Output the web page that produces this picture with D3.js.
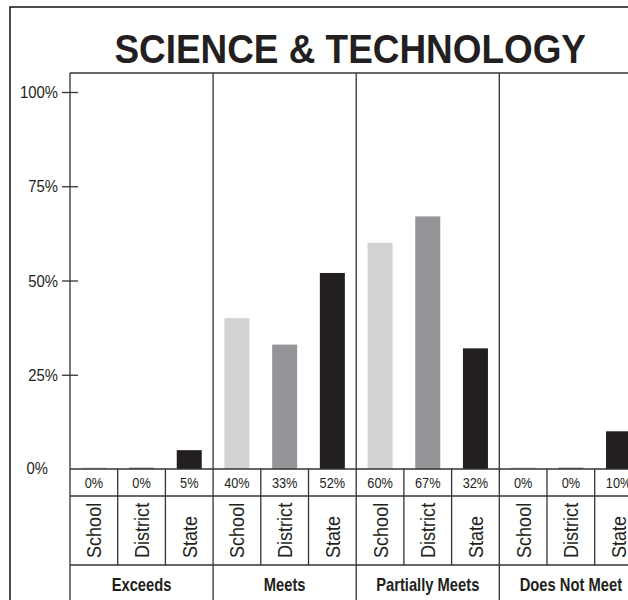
<!DOCTYPE html>
<html>
<head>
<meta charset="utf-8">
<script src="https://cdn.jsdelivr.net/npm/d3@7/dist/d3.min.js"></script>
<style>
  html, body { margin: 0; padding: 0; background: #fff; }
  svg { display: block; font-family: "Liberation Sans", Arial, Helvetica, sans-serif; }
</style>
</head>
<body>
<script>
// Achievement levels (groups) and the three comparison populations
const title = "SCIENCE & TECHNOLOGY";
const groups = ["Exceeds", "Meets", "Partially Meets", "Does Not Meet"];
const levels = ["School", "District", "State"];

// Percent of students per achievement level
const school   = [0, 40, 60, 0];
const district = [0, 33, 67, 0];
const state    = [5, 52, 32, 10];

const tickValues = [0, 25, 50, 75, 100];

const colors = { School: "#d1d3d4", District: "#939598", State: "#231f20" };
const ink = "#231f20";
const lineColor = "#333";

const W = 628, H = 600;
const frameLeft = 10, frameTop = 7;
const plotLeft = 70, plotTop = 73, plotRight = 642.4;
const baseY = 469, topY = 92;
const pctRowBottom = 496, labelRowBottom = 565;
const barW = 25;

const series = [school, district, state];
const cols = groups.flatMap((g, gi) => levels.map((l, li) => ({
  group: g, level: l, key: g + "|" + l, value: series[li][gi]
})));

const x = d3.scaleBand().domain(cols.map(d => d.key)).range([plotLeft, plotRight]);
const y = d3.scaleLinear().domain([0, 100]).range([baseY, topY]);
const xg = d3.scaleBand().domain(groups).range([plotLeft, plotRight]);

const svg = d3.select("body").append("svg").attr("width", W).attr("height", H);

// Outer frame
svg.append("path")
  .attr("d", `M${frameLeft},${H + 5}V${frameTop}H${W + 20}`)
  .attr("fill", "none").attr("stroke", "#111").attr("stroke-width", 1.5);

// Title
svg.append("text")
  .attr("transform", `translate(${(plotLeft + plotRight) / 2 - 6},63) scale(0.9,1)`)
  .attr("text-anchor", "middle")
  .attr("font-weight", "bold").attr("font-size", 41).attr("fill", ink)
  .text(title);

// Bars (zero values still show as a thin line on the baseline)
svg.append("g").selectAll("rect").data(cols).join("rect")
  .attr("x", d => x(d.key) + (x.bandwidth() - barW) / 2)
  .attr("width", barW)
  .attr("y", d => Math.min(y(d.value), baseY - 1.5))
  .attr("height", d => baseY - Math.min(y(d.value), baseY - 1.5))
  .attr("fill", d => colors[d.level]);

// Plot box: top edge, left axis line, group separators
const frame = svg.append("g").attr("stroke", lineColor).attr("stroke-width", 1.3).attr("fill", "none");
frame.append("line").attr("x1", plotLeft).attr("x2", W + 20).attr("y1", plotTop).attr("y2", plotTop);
frame.append("line").attr("x1", plotLeft).attr("x2", plotLeft).attr("y1", plotTop).attr("y2", H + 5);
frame.selectAll("line.grp").data(groups.slice(1)).join("line").attr("class", "grp")
  .attr("x1", d => xg(d)).attr("x2", d => xg(d)).attr("y1", plotTop).attr("y2", H + 5);

// Table horizontal rules
frame.selectAll("line.row").data([baseY, pctRowBottom, labelRowBottom]).join("line").attr("class", "row")
  .attr("x1", plotLeft).attr("x2", W + 20).attr("y1", d => d).attr("y2", d => d);

// Column separators inside groups (value and label rows only)
frame.selectAll("line.col").data(cols.filter(d => d.level !== "School")).join("line").attr("class", "col")
  .attr("x1", d => x(d.key)).attr("x2", d => x(d.key))
  .attr("y1", baseY).attr("y2", labelRowBottom);

// Y axis
const axis = svg.append("g").attr("transform", `translate(${plotLeft},0)`)
  .call(d3.axisLeft(y).tickValues(tickValues).tickFormat(d => d + "%").tickSize(8).tickPadding(0));
axis.select(".domain").remove();
axis.selectAll(".tick line").attr("x1", 8).attr("stroke", lineColor).attr("stroke-width", 1.3);
axis.selectAll(".tick text")
  .attr("x", null).attr("dy", null)
  .attr("transform", d => `translate(${d === 0 ? -22 : -12},${d === 0 ? 4 : 5.5}) scale(0.93,1)`)
  .attr("font-size", 16).attr("fill", ink)
  .attr("font-family", "\"Liberation Sans\", Arial, Helvetica, sans-serif");
axis.selectAll(".tick").filter(d => d === 0).select("line").remove();

// Value row
svg.append("g").selectAll("text").data(cols).join("text")
  .attr("transform", d => `translate(${x(d.key) + x.bandwidth() / 2},488) scale(0.85,1)`)
  .attr("text-anchor", "middle").attr("font-size", 15).attr("fill", ink)
  .text(d => d.value + "%");

// Population labels, rotated
svg.append("g").selectAll("text").data(cols).join("text")
  .attr("transform", d => `translate(${x(d.key) + x.bandwidth() / 2 + 7.5},558) rotate(-90) scale(0.86,1)`)
  .attr("font-size", 21).attr("fill", ink)
  .text(d => d.level);

// Group labels
svg.append("g").selectAll("text").data(groups).join("text")
  .attr("transform", d => `translate(${xg(d) + xg.bandwidth() / 2},591) scale(0.82,1)`)
  .attr("text-anchor", "middle").attr("font-weight", "bold").attr("font-size", 18).attr("fill", ink)
  .text(d => d);
</script>
</body>
</html>
